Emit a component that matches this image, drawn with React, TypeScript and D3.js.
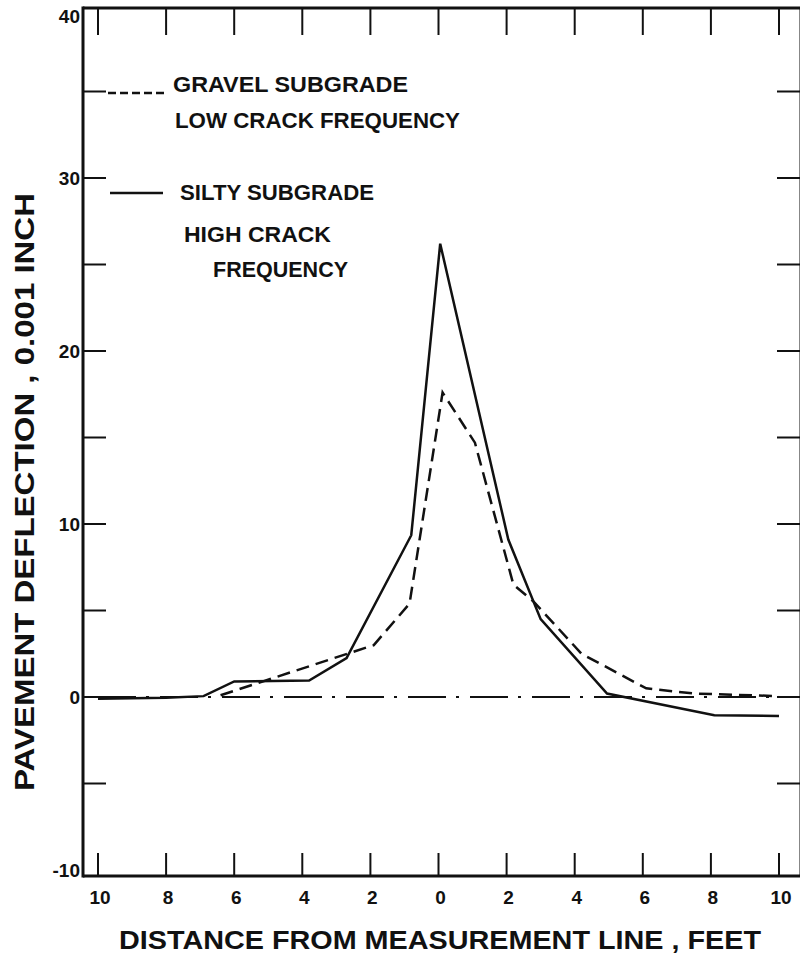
import React from 'react';
import * as d3 from 'd3';

// distance (ft, negative = left of the measurement line) / deflection (0.001 in)
const siltyX = [-10, -8, -6.9, -6, -3.8, -2.7, -0.8, 0.05, 2.05, 3.0, 4.95, 8.1, 10];
const siltyY = [-0.1, -0.05, 0.05, 0.9, 0.95, 2.25, 9.35, 26.2, 9.1, 4.5, 0.2, -1.05, -1.1];

const gravelX = [-6.4, -1.9, -0.85, 0.12, 1.07, 2.2, 2.8, 4.2, 6.1, 7.5, 10];
const gravelY = [0.1, 3.0, 5.4, 17.6, 14.7, 6.5, 5.5, 2.5, 0.5, 0.2, 0.05];

const xTicks = [-10, -8, -6, -4, -2, 0, 2, 4, 6, 8, 10];
const yLabelTicks = [40, 30, 20, 10, 0, -10];
const ySideTicks = [35, 30, 25, 20, 15, 10, 5, 0, -5];

const FONT = '"Liberation Sans", Arial, sans-serif';

export default function App() {
  const width = 800;
  const height = 954;
  const frame = { left: 83, top: 8, right: 801, bottom: 876 };

  const x = d3.scaleLinear().domain([-10, 10]).range([98, 779]);
  const y = d3.scaleLinear().domain([-10, 40]).range([870, 5]);

  const line = d3
    .line<[number, number]>()
    .x((d) => x(d[0]))
    .y((d) => y(d[1]));

  const silty = siltyX.map((v, i) => [v, siltyY[i]] as [number, number]);
  const gravel = gravelX.map((v, i) => [v, gravelY[i]] as [number, number]);

  return (
    <svg
      width={width}
      height={height}
      style={{ position: 'absolute', left: 0, top: 0, background: '#fff' }}
      fontFamily={FONT}
      fontWeight="bold"
    >
      {/* frame */}
      <g stroke="#111" strokeWidth={3} fill="none">
        <line x1={frame.left} y1={frame.top - 1.5} x2={frame.left} y2={frame.bottom + 1.5} />
        <line x1={frame.left} y1={frame.top} x2={frame.right} y2={frame.top} />
        <line x1={frame.left} y1={frame.bottom} x2={frame.right} y2={frame.bottom} />
        <line x1={frame.right} y1={frame.top} x2={frame.right} y2={frame.bottom} />
      </g>

      {/* x ticks, top and bottom */}
      <g stroke="#111" strokeWidth={2}>
        {xTicks.map((t) => (
          <g key={t}>
            <line x1={x(t)} x2={x(t)} y1={frame.top} y2={frame.top + 27} />
            <line x1={x(t)} x2={x(t)} y1={frame.bottom} y2={frame.bottom - 23} />
          </g>
        ))}
      </g>

      {/* y ticks, left and right */}
      <g stroke="#111" strokeWidth={2}>
        {ySideTicks.map((t) => (
          <g key={t}>
            <line x1={frame.left} x2={frame.left + 23} y1={y(t)} y2={y(t)} />
            <line x1={frame.right - 24} x2={frame.right} y1={y(t)} y2={y(t)} />
          </g>
        ))}
      </g>

      {/* tick labels */}
      <g fontSize={19} fill="#111" textAnchor="end">
        {yLabelTicks.map((t) => (
          <text key={t} x={80} y={Math.max(y(t), 16)} dy="0.36em">
            {t}
          </text>
        ))}
      </g>
      <g fontSize={19} fill="#111" textAnchor="middle">
        {xTicks.map((t) => (
          <text key={t} x={x(t) + 2} y={904}>
            {Math.abs(t)}
          </text>
        ))}
      </g>

      {/* zero reference line */}
      <line
        x1={x(-10)}
        x2={width}
        y1={y(0)}
        y2={y(0)}
        stroke="#111"
        strokeWidth={2}
        strokeDasharray="38 10 3 11"
      />

      {/* data */}
      <path d={line(gravel) ?? ''} fill="none" stroke="#111" strokeWidth={2.5} strokeDasharray="13 7" />
      <path d={line(silty) ?? ''} fill="none" stroke="#111" strokeWidth={2.5} strokeLinejoin="miter" />

      {/* legend */}
      <g fill="#111" fontSize={22}>
        <line x1={108} x2={164} y1={93} y2={93} stroke="#111" strokeWidth={2.5} strokeDasharray="8 4" />
        <text x={173} y={92} textLength={235} lengthAdjust="spacingAndGlyphs">GRAVEL SUBGRADE</text>
        <text x={175} y={128} textLength={285} lengthAdjust="spacingAndGlyphs">LOW CRACK FREQUENCY</text>
        <line x1={110} x2={163} y1={193} y2={193} stroke="#111" strokeWidth={2.5} />
        <text x={180} y={200} textLength={194} lengthAdjust="spacingAndGlyphs">SILTY SUBGRADE</text>
        <text x={184} y={242} textLength={147} lengthAdjust="spacingAndGlyphs">HIGH CRACK</text>
        <text x={213} y={277} textLength={135} lengthAdjust="spacingAndGlyphs">FREQUENCY</text>
      </g>

      {/* axis titles */}
      <text
        transform="translate(34,492) rotate(-90)"
        textAnchor="middle"
        fontSize={27}
        fill="#111"
        textLength={598}
        lengthAdjust="spacingAndGlyphs"
      >
        PAVEMENT  DEFLECTION , 0.001 INCH
      </text>
      <text
        x={440}
        y={949}
        textAnchor="middle"
        fontSize={26}
        fill="#111"
        textLength={642}
        lengthAdjust="spacingAndGlyphs"
      >
        DISTANCE FROM MEASUREMENT LINE ,  FEET
      </text>
    </svg>
  );
}
